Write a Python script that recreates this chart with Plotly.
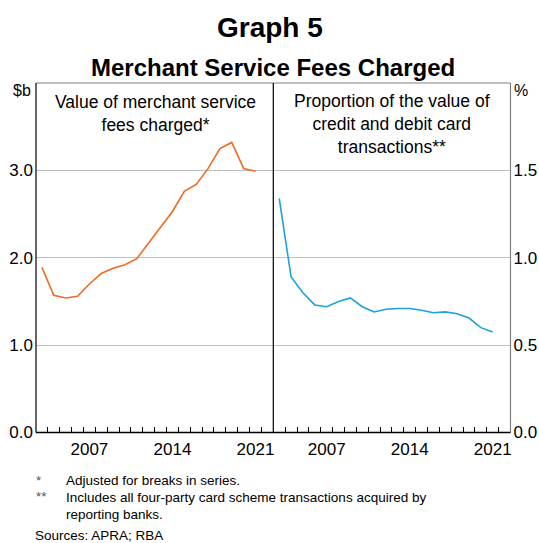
import plotly.graph_objects as go

years = list(range(2003, 2022))
fees_bn = [1.89, 1.57, 1.54, 1.56, 1.70, 1.82, 1.88, 1.92, 1.99, 2.17, 2.34, 2.53,
           2.76, 2.84, 3.02, 3.25, 3.32, 3.02, 2.99]
fee_share_pct = [1.34, 0.89, 0.80, 0.73, 0.72, 0.75, 0.77, 0.72, 0.69, 0.705, 0.71,
                 0.71, 0.70, 0.685, 0.69, 0.68, 0.655, 0.60, 0.575]
x_tick_labels = ["2007", "2014", "2021"]
left_ticks = [0, 1, 2, 3]
right_ticks = [0, 0.5, 1.0, 1.5]

W, H = 539, 543
FONT = "Arial, Liberation Sans, Arimo, sans-serif"
ORANGE = "#F26A21"
BLUE = "#1BA1E2"
GRID = "#C0C0C0"

# pixel geometry
L, MID, R = 36, 273.3, 510.5
TOP, BOT = 83, 432.5

def px(x):
    return x / W

def py(y):
    return 1 - y / H

xmid = [y + 0.5 for y in years]

fig = go.Figure()
fig.add_trace(go.Scatter(x=xmid, y=fees_bn, mode="lines",
                         line=dict(color=ORANGE, width=1.6), xaxis="x", yaxis="y",
                         showlegend=False))
fig.add_trace(go.Scatter(x=xmid, y=fee_share_pct, mode="lines",
                         line=dict(color=BLUE, width=1.6), xaxis="x2", yaxis="y2",
                         showlegend=False))

minor_ticks = [float(v) for v in range(2004, 2023)]
label_vals = [int(t) + 0.5 for t in x_tick_labels]

xcommon = dict(range=[2003, 2023], showgrid=False, zeroline=False, showline=False,
               tickvals=label_vals, ticktext=x_tick_labels, ticks="", ticklen=0,
               tickfont=dict(family=FONT, size=17, color="#000"),
               ticklabelstandoff=4, automargin=False,
               minor=dict(tickvals=minor_ticks, ticks="inside", ticklen=6,
                          tickcolor="#000", tickwidth=1, showgrid=False),
               fixedrange=True)

fig.update_layout(
    width=W, height=H,
    margin=dict(l=0, r=0, t=0, b=0, autoexpand=False),
    paper_bgcolor="white", plot_bgcolor="white",
    xaxis=dict(domain=[px(L), px(MID)], anchor="y", **xcommon),
    xaxis2=dict(domain=[px(MID), px(R)], anchor="y2", **xcommon),
    yaxis=dict(domain=[py(BOT), py(TOP)], range=[0, 4], anchor="x",
               tickvals=left_ticks, tickformat=".1f", ticks="", showline=False,
               showgrid=True, gridcolor=GRID, gridwidth=1, zeroline=False,
               tickfont=dict(family=FONT, size=17, color="#000"),
               ticklabelstandoff=2, automargin=False, fixedrange=True),
    yaxis2=dict(domain=[py(BOT), py(TOP)], range=[0, 2], anchor="x2", side="right",
                tickvals=right_ticks, tickformat=".1f", ticks="", showline=False,
                showgrid=True, gridcolor=GRID, gridwidth=1, zeroline=False,
                tickfont=dict(family=FONT, size=17, color="#000"),
                ticklabelstandoff=2, automargin=False, fixedrange=True),
)

# frame
shapes = [
    dict(type="line", xref="paper", yref="paper", x0=px(L), x1=px(R), y0=py(TOP), y1=py(TOP),
         line=dict(color="#808080", width=1.2)),
    dict(type="line", xref="paper", yref="paper", x0=px(R), x1=px(R), y0=py(TOP), y1=py(BOT),
         line=dict(color="#808080", width=1.2)),
    dict(type="line", xref="paper", yref="paper", x0=px(L), x1=px(L), y0=py(TOP), y1=py(BOT),
         line=dict(color="#000", width=1.2)),
    dict(type="line", xref="paper", yref="paper", x0=px(MID), x1=px(MID), y0=py(TOP), y1=py(BOT),
         line=dict(color="#000", width=1.2)),
    dict(type="line", xref="paper", yref="paper", x0=px(L), x1=px(R), y0=py(BOT), y1=py(BOT),
         line=dict(color="#000", width=1.4)),
]
fig.update_layout(shapes=shapes)

def ann(text, x, y, size, xanchor="center", yanchor="middle", bold=False, color="#000"):
    fig.add_annotation(text=f"<b>{text}</b>" if bold else text, xref="paper", yref="paper",
                       x=px(x), y=py(y), xanchor=xanchor, yanchor=yanchor, showarrow=False,
                       font=dict(family=FONT, size=size, color=color), align="center")

ann("Graph 5", 270, 28, 28, bold=True)
ann("Merchant Service Fees Charged", 273, 67, 24, bold=True)
ann("$b", 22, 90, 16)
ann("%", 521, 90, 16)

ann("Value of merchant service<br>fees charged*", 155, 113, 17.5)
ann("Proportion of the value of<br>credit and debit card<br>transactions**", 392, 124, 17.5)

ann("*", 34, 480, 13.5, xanchor="left", color="#555")
ann("Adjusted for breaks in series.", 64, 480, 13.5, xanchor="left")
ann("**", 34, 496, 13.5, xanchor="left", color="#555")
ann("Includes all four-party card scheme transactions acquired by", 64, 497, 13.5, xanchor="left")
ann("reporting banks.", 64, 514, 13.5, xanchor="left")
ann("Sources: APRA; RBA", 33, 535, 13.5, xanchor="left")

fig.write_html("out.html", config={"displayModeBar": False},
               post_script="document.body.style.margin='0';document.body.style.overflow='hidden';")
